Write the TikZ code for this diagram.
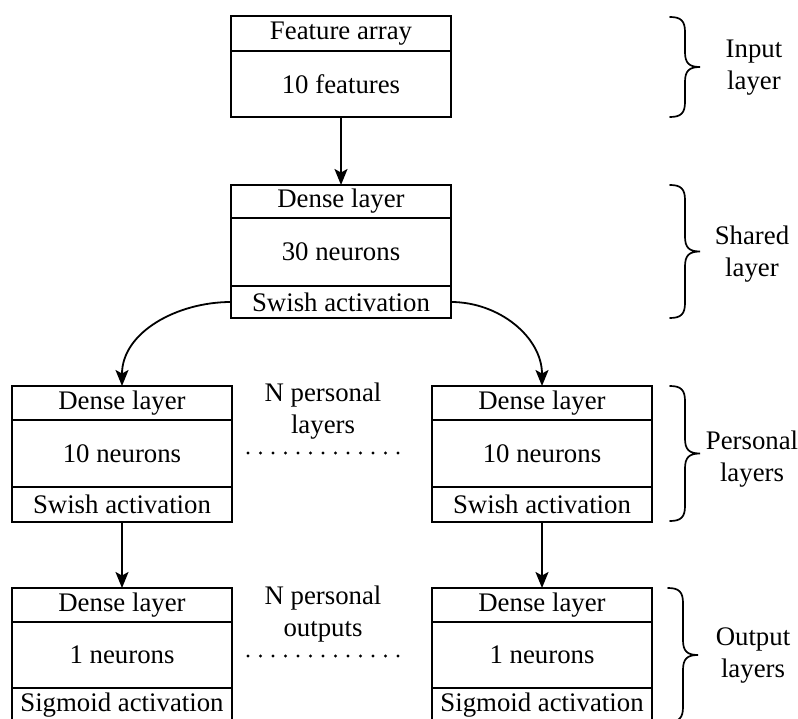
\documentclass[tikz,border=0pt]{standalone}
\usepackage{fontspec}
\setmainfont{Liberation Serif}
\usetikzlibrary{arrows.meta}
\newcommand{\layerbrace}[3]{% x, top, bottom
  \draw[bracestyle] (#1,#2) .. controls ({#1+11},#2) and ({#1+15},{#2+4}) .. ({#1+15},{#2+15})
    -- ({#1+15},{(#2+#3)/2-15}) .. controls ({#1+15},{(#2+#3)/2-4}) and ({#1+19},{(#2+#3)/2}) .. ({#1+30},{(#2+#3)/2})
    .. controls ({#1+19},{(#2+#3)/2}) and ({#1+15},{(#2+#3)/2+4}) .. ({#1+15},{(#2+#3)/2+15})
    -- ({#1+15},{#3-15}) .. controls ({#1+15},{#3-4}) and ({#1+11},#3) .. (#1,#3);}
\begin{document}
\begin{tikzpicture}[x=1pt,y=-1pt,
  every node/.style={font=\fontsize{26.8}{32}\selectfont},
  cell/.style={draw,rectangle,line width=1.9pt,minimum width=220pt,inner sep=0pt,outer sep=0pt,anchor=center},
  conn/.style={line width=1.8pt,-{Stealth[length=16pt,width=13pt,inset=3.5pt]}},
  dotline/.style={line width=3.2pt,line cap=round,dash pattern=on 0pt off 12.5pt},
  bracestyle/.style={line width=1.7pt,line cap=round},
  lab/.style={align=center}]
\useasboundingbox (0,0) rectangle (798,719);
\fill[white] (0,0) rectangle (798,719);

% Input layer
\node[cell,minimum height=35pt] (inh) at (341,33.5) {Feature array};
\node[cell,minimum height=66pt] (inb) at (341,84) {10 features};

% Shared layer
\node[cell,minimum height=33pt] (shh) at (341,201.5) {Dense layer};
\node[cell,minimum height=68pt] (shb) at (341,252) {30 neurons};
\node[cell,minimum height=32pt] (shf) at (341,302) {Swish activation};

% Personal layers
\node[cell,minimum height=34pt] (plh) at (122,403) {Dense layer};
\node[cell,minimum height=67pt] (plb) at (122,453.5) {10 neurons};
\node[cell,minimum height=35pt] (plf) at (122,504.5) {Swish activation};

\node[cell,minimum height=34pt] (prh) at (542,403) {Dense layer};
\node[cell,minimum height=67pt] (prb) at (542,453.5) {10 neurons};
\node[cell,minimum height=35pt] (prf) at (542,504.5) {Swish activation};

% Output layers
\node[cell,minimum height=34pt] (olh) at (122,605) {Dense layer};
\node[cell,minimum height=66pt] (olb) at (122,655) {1 neurons};
\node[cell,minimum height=34pt] (olf) at (122,705) {Sigmoid activation};

\node[cell,minimum height=34pt] (orh) at (542,605) {Dense layer};
\node[cell,minimum height=66pt] (orb) at (542,655) {1 neurons};
\node[cell,minimum height=34pt] (orf) at (542,705) {Sigmoid activation};

% connectors
\draw[conn] (inb.south) -- (shh.north);
\draw[conn] (shf.west) to[out=180,in=90] (plh.north);
\draw[conn] (shf.east) to[out=0,in=90] (prh.north);
\draw[conn] (plf.south) -- (olh.north);
\draw[conn] (prf.south) -- (orh.north);

% middle labels
\node[lab] (nlay) at (323,411.5) {N personal\\layers};
\node[lab] (nout) at (323,614) {N personal\\outputs};
\draw[dotline] (248,453) -- (398,453);
\draw[dotline] (248,656) -- (398,656);

% braces
\layerbrace{670}{17}{117}
\layerbrace{670}{185}{318}
\layerbrace{670}{386}{521}
\layerbrace{668}{588}{722}

\node[lab] (linp) at (754,68) {Input\\layer};
\node[lab] (lsh) at (752,254) {Shared\\layer};
\node[lab] (lper) at (752,459) {Personal\\layers};
\node[lab] (lout) at (753,656) {Output\\layers};
\end{tikzpicture}
\end{document}
